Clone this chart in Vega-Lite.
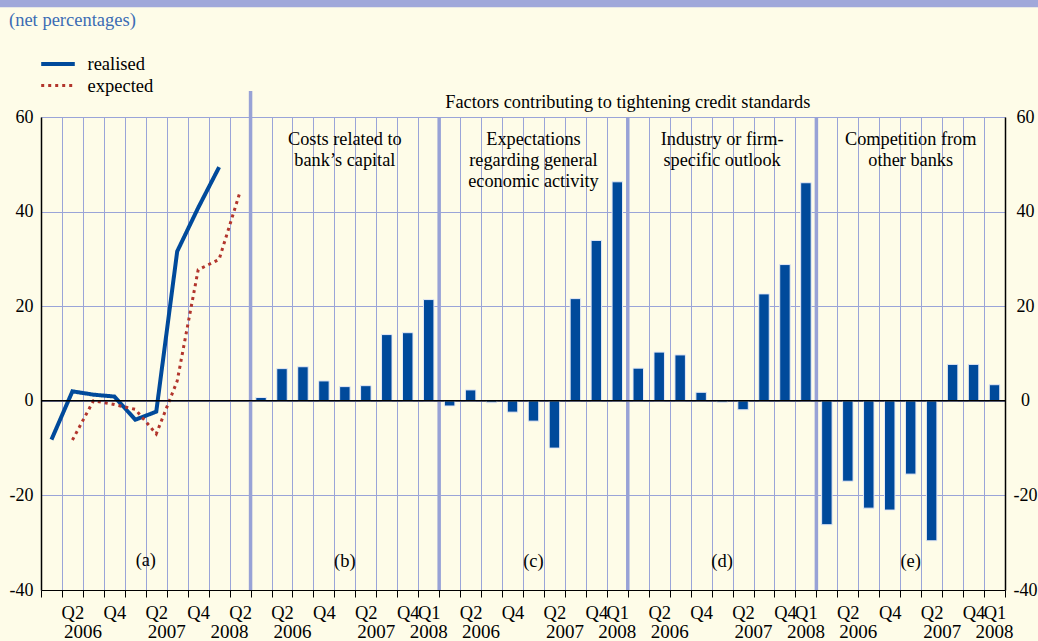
{
  "$schema": "https://vega.github.io/schema/vega-lite/v6.json",
  "width": 964,
  "height": 473,
  "autosize": {"type": "none"},
  "padding": {"left": 41, "top": 117, "right": 33, "bottom": 51},
  "background": "#FEFCE8",
  "config": {"view": {"stroke": null}, "font": "Liberation Serif"},
  "datasets": {
    "lines": [
      {"slot": "a 2006 Q1", "series": "realised", "value": -8.2},
      {"slot": "a 2006 Q2", "series": "realised", "value": 2.0},
      {"slot": "a 2006 Q3", "series": "realised", "value": 1.3},
      {"slot": "a 2006 Q4", "series": "realised", "value": 0.9},
      {"slot": "a 2007 Q1", "series": "realised", "value": -4.0},
      {"slot": "a 2007 Q2", "series": "realised", "value": -2.3},
      {"slot": "a 2007 Q3", "series": "realised", "value": 31.6},
      {"slot": "a 2007 Q4", "series": "realised", "value": 40.8},
      {"slot": "a 2008 Q1", "series": "realised", "value": 49.4},
      {"slot": "a 2006 Q2", "series": "expected", "value": -8.3},
      {"slot": "a 2006 Q3", "series": "expected", "value": 0.0},
      {"slot": "a 2006 Q4", "series": "expected", "value": -0.8},
      {"slot": "a 2007 Q1", "series": "expected", "value": -1.8},
      {"slot": "a 2007 Q2", "series": "expected", "value": -7.0},
      {"slot": "a 2007 Q3", "series": "expected", "value": 4.2},
      {"slot": "a 2007 Q4", "series": "expected", "value": 27.7},
      {"slot": "a 2008 Q1", "series": "expected", "value": 29.9},
      {"slot": "a 2008 Q2", "series": "expected", "value": 44.2}
    ],
    "bars": [
      {"slot": "b 2006 Q1", "factor": "Costs related to bank's capital", "value": 0.7},
      {"slot": "b 2006 Q2", "factor": "Costs related to bank's capital", "value": 6.8},
      {"slot": "b 2006 Q3", "factor": "Costs related to bank's capital", "value": 7.2},
      {"slot": "b 2006 Q4", "factor": "Costs related to bank's capital", "value": 4.2},
      {"slot": "b 2007 Q1", "factor": "Costs related to bank's capital", "value": 3.0},
      {"slot": "b 2007 Q2", "factor": "Costs related to bank's capital", "value": 3.2},
      {"slot": "b 2007 Q3", "factor": "Costs related to bank's capital", "value": 14.0},
      {"slot": "b 2007 Q4", "factor": "Costs related to bank's capital", "value": 14.4},
      {"slot": "b 2008 Q1", "factor": "Costs related to bank's capital", "value": 21.4},
      {"slot": "c 2006 Q1", "factor": "Expectations regarding general economic activity", "value": -1.1},
      {"slot": "c 2006 Q2", "factor": "Expectations regarding general economic activity", "value": 2.3},
      {"slot": "c 2006 Q3", "factor": "Expectations regarding general economic activity", "value": -0.4},
      {"slot": "c 2006 Q4", "factor": "Expectations regarding general economic activity", "value": -2.4},
      {"slot": "c 2007 Q1", "factor": "Expectations regarding general economic activity", "value": -4.3},
      {"slot": "c 2007 Q2", "factor": "Expectations regarding general economic activity", "value": -10.0},
      {"slot": "c 2007 Q3", "factor": "Expectations regarding general economic activity", "value": 21.6},
      {"slot": "c 2007 Q4", "factor": "Expectations regarding general economic activity", "value": 33.9},
      {"slot": "c 2008 Q1", "factor": "Expectations regarding general economic activity", "value": 46.3},
      {"slot": "d 2006 Q1", "factor": "Industry or firm-specific outlook", "value": 6.9},
      {"slot": "d 2006 Q2", "factor": "Industry or firm-specific outlook", "value": 10.3},
      {"slot": "d 2006 Q3", "factor": "Industry or firm-specific outlook", "value": 9.7},
      {"slot": "d 2006 Q4", "factor": "Industry or firm-specific outlook", "value": 1.8},
      {"slot": "d 2007 Q1", "factor": "Industry or firm-specific outlook", "value": -0.3},
      {"slot": "d 2007 Q2", "factor": "Industry or firm-specific outlook", "value": -1.9},
      {"slot": "d 2007 Q3", "factor": "Industry or firm-specific outlook", "value": 22.6},
      {"slot": "d 2007 Q4", "factor": "Industry or firm-specific outlook", "value": 28.8},
      {"slot": "d 2008 Q1", "factor": "Industry or firm-specific outlook", "value": 46.1},
      {"slot": "e 2006 Q1", "factor": "Competition from other banks", "value": -26.2},
      {"slot": "e 2006 Q2", "factor": "Competition from other banks", "value": -17.0},
      {"slot": "e 2006 Q3", "factor": "Competition from other banks", "value": -22.7},
      {"slot": "e 2006 Q4", "factor": "Competition from other banks", "value": -23.1},
      {"slot": "e 2007 Q1", "factor": "Competition from other banks", "value": -15.5},
      {"slot": "e 2007 Q2", "factor": "Competition from other banks", "value": -29.6},
      {"slot": "e 2007 Q3", "factor": "Competition from other banks", "value": 7.7},
      {"slot": "e 2007 Q4", "factor": "Competition from other banks", "value": 7.7},
      {"slot": "e 2008 Q1", "factor": "Competition from other banks", "value": 3.4}
    ]
  },
  "layer": [
    {
      "data": {"values": [{"band": "top"}]},
      "mark": {"type": "rect", "color": "#A0A8DA", "x": 0, "xOffset": -41, "x2": {"expr": "width + 33"}},
      "encoding": {
        "y": {"datum": 84.9, "type": "quantitative", "axis": null},
        "y2": {"datum": 83.2}
      }
    },
    {
      "data": {"name": "bars"},
      "mark": {"type": "bar", "color": "#004A9B", "stroke": "#E4E9F6", "strokeWidth": 1, "width": {"band": 0.5}},
      "encoding": {
        "x": {
          "field": "slot", "type": "ordinal",
          "scale": {
            "domain": ["a 2006 Q1","a 2006 Q2","a 2006 Q3","a 2006 Q4","a 2007 Q1","a 2007 Q2","a 2007 Q3","a 2007 Q4","a 2008 Q1","a 2008 Q2",
                       "b 2006 Q1","b 2006 Q2","b 2006 Q3","b 2006 Q4","b 2007 Q1","b 2007 Q2","b 2007 Q3","b 2007 Q4","b 2008 Q1",
                       "c 2006 Q1","c 2006 Q2","c 2006 Q3","c 2006 Q4","c 2007 Q1","c 2007 Q2","c 2007 Q3","c 2007 Q4","c 2008 Q1",
                       "d 2006 Q1","d 2006 Q2","d 2006 Q3","d 2006 Q4","d 2007 Q1","d 2007 Q2","d 2007 Q3","d 2007 Q4","d 2008 Q1",
                       "e 2006 Q1","e 2006 Q2","e 2006 Q3","e 2006 Q4","e 2007 Q1","e 2007 Q2","e 2007 Q3","e 2007 Q4","e 2008 Q1"],
            "paddingInner": 0, "paddingOuter": 0
          },
          "axis": {
            "title": null, "orient": "bottom", "tickBand": "extent",
            "grid": true, "gridColor": "#9AA4D8", "gridWidth": 1, "gridOpacity": 1,
            "ticks": true, "tickColor": "black", "tickSize": 7, "tickWidth": 1,
            "domain": true, "domainColor": "black", "domainWidth": 1,
            "labelAngle": 0, "labelFont": "Liberation Serif", "labelFontSize": 18.5, "labelColor": "black",
            "labelPadding": 6, "labelOverlap": false,
            "labelExpr": "isString(datum.value) && (slice(datum.value,-2)=='Q2' || slice(datum.value,-2)=='Q4' || (slice(datum.value,-7)=='2008 Q1' && slice(datum.value,0,1)!='a')) ? slice(datum.value,-2) : ''"
          }
        },
        "y": {
          "field": "value", "type": "quantitative",
          "scale": {"domain": [-40, 60], "nice": false, "zero": false},
          "axis": {
            "title": null, "orient": "left", "values": [-40, -20, 0, 20, 40, 60],
            "grid": true, "gridColor": "#9AA4D8", "gridWidth": 1, "gridOpacity": 1,
            "ticks": false, "domain": true, "domainColor": "black", "domainWidth": 1.5,
            "labelFont": "Liberation Serif", "labelFontSize": 18, "labelColor": "black", "labelPadding": 8,
            "labelExpr": "replace(datum.label, '−', '-')"
          }
        }
      }
    },
    {
      "data": {"name": "lines"},
      "mark": {"type": "line"},
      "encoding": {
        "x": {"field": "slot", "type": "ordinal"},
        "y": {
          "field": "value", "type": "quantitative",
          "axis": {
            "title": null, "orient": "right", "values": [-40, -20, 0, 20, 40, 60],
            "grid": false, "ticks": false, "domain": true, "domainColor": "black", "domainWidth": 1.5,
            "labelFont": "Liberation Serif", "labelFontSize": 18, "labelColor": "black", "labelPadding": 20, "labelAlign": "center",
            "labelExpr": "replace(datum.label, '−', '-')"
          }
        },
        "color": {
          "field": "series", "type": "nominal",
          "scale": {"domain": ["realised", "expected"], "range": ["#004A9B", "#B2352C"]},
          "legend": {"orient": "none", "legendX": 4.5, "legendY": -65.5, "title": null, "padding": 0, "rowPadding": 0,
                     "symbolType": "M-1.6,0H1.6", "symbolSize": 441, "labelOffset": 17,
                     "labelFont": "Liberation Serif", "labelFontSize": 18.5, "labelColor": "black"}
        },
        "strokeDash": {
          "field": "series", "type": "nominal",
          "scale": {"domain": ["realised", "expected"], "range": [[1, 0], [3, 4]]},
          "legend": {"orient": "none", "legendX": 4.5, "legendY": -65.5, "title": null, "padding": 0, "rowPadding": 0,
                     "symbolType": "M-1.6,0H1.6", "symbolSize": 441, "labelOffset": 17,
                     "labelFont": "Liberation Serif", "labelFontSize": 18.5, "labelColor": "black"}
        },
        "strokeWidth": {
          "field": "series", "type": "nominal",
          "scale": {"type": "ordinal", "domain": ["realised", "expected"], "range": [4, 3]},
          "legend": {"orient": "none", "legendX": 4.5, "legendY": -65.5, "title": null, "padding": 0, "rowPadding": 0,
                     "symbolType": "M-1.6,0H1.6", "symbolSize": 441, "labelOffset": 17,
                     "labelFont": "Liberation Serif", "labelFontSize": 18.5, "labelColor": "black"}
        }
      }
    },
    {
      "data": {"values": [{"slot": "b 2006 Q1", "top": 65.5}, {"slot": "c 2006 Q1", "top": 60}, {"slot": "d 2006 Q1", "top": 60}, {"slot": "e 2006 Q1", "top": 60}]},
      "mark": {"type": "rule", "color": "#98A2D6", "strokeWidth": 3.5},
      "encoding": {
        "x": {"field": "slot", "type": "ordinal", "bandPosition": 0},
        "y": {"field": "top", "type": "quantitative", "axis": null},
        "y2": {"datum": -40}
      }
    },
    {
      "data": {"values": [{"level": 0}]},
      "mark": {"type": "rule", "color": "black", "strokeWidth": 1.5},
      "encoding": {
        "y": {"field": "level", "type": "quantitative", "axis": null}
      }
    },
    {
      "data": {"values": [
        {"slot": "b 2007 Q1", "label": "Costs related to\nbank’s capital"},
        {"slot": "c 2007 Q1", "label": "Expectations\nregarding general\neconomic activity"},
        {"slot": "d 2007 Q1", "label": "Industry or firm-\nspecific outlook"},
        {"slot": "e 2007 Q1", "label": "Competition from\nother banks"}
      ]},
      "mark": {"type": "text", "font": "Liberation Serif", "fontSize": 18.3, "color": "black", "align": "center", "baseline": "top", "lineBreak": "\n", "lineHeight": 21},
      "encoding": {
        "x": {"field": "slot", "type": "ordinal"},
        "y": {"datum": 57.1, "type": "quantitative", "axis": null},
        "text": {"field": "label"}
      }
    },
    {
      "data": {"values": [
        {"slot": "b 2007 Q1", "label": "(b)"},
        {"slot": "c 2007 Q1", "label": "(c)"},
        {"slot": "d 2007 Q1", "label": "(d)"},
        {"slot": "e 2007 Q1", "label": "(e)"}
      ]},
      "mark": {"type": "text", "font": "Liberation Serif", "fontSize": 18.5, "color": "black", "align": "center", "baseline": "middle"},
      "encoding": {
        "x": {"field": "slot", "type": "ordinal"},
        "y": {"datum": -33.9, "type": "quantitative", "axis": null},
        "text": {"field": "label"}
      }
    },
    {
      "data": {"values": [
        {"slot": "a 2007 Q2", "label": "(a)", "row": -33.9},
        {"slot": "d 2006 Q1", "label": "Factors contributing to tightening credit standards", "row": 63.0}
      ]},
      "mark": {"type": "text", "font": "Liberation Serif", "fontSize": 18.3, "color": "black", "align": "center", "baseline": "middle"},
      "encoding": {
        "x": {"field": "slot", "type": "ordinal", "bandPosition": 0},
        "y": {"field": "row", "type": "quantitative", "axis": null},
        "text": {"field": "label"}
      }
    },
    {
      "data": {"values": [
        {"slot": "a 2006 Q3", "label": "2006"},
        {"slot": "a 2007 Q3", "label": "2007"},
        {"slot": "a 2008 Q2", "label": "2008"},
        {"slot": "b 2006 Q3", "label": "2006"},
        {"slot": "b 2007 Q3", "label": "2007"},
        {"slot": "c 2006 Q3", "label": "2006"},
        {"slot": "c 2007 Q3", "label": "2007"},
        {"slot": "d 2006 Q3", "label": "2006"},
        {"slot": "d 2007 Q3", "label": "2007"},
        {"slot": "e 2006 Q3", "label": "2006"},
        {"slot": "e 2007 Q3", "label": "2007"}
      ]},
      "mark": {"type": "text", "font": "Liberation Serif", "fontSize": 19, "color": "black", "align": "center", "baseline": "middle"},
      "encoding": {
        "x": {"field": "slot", "type": "ordinal", "bandPosition": 0},
        "y": {"datum": -48.9, "type": "quantitative", "axis": null},
        "text": {"field": "label"}
      }
    },
    {
      "data": {"values": [
        {"slot": "b 2008 Q1", "label": "2008"},
        {"slot": "c 2008 Q1", "label": "2008"},
        {"slot": "d 2008 Q1", "label": "2008"},
        {"slot": "e 2008 Q1", "label": "2008"}
      ]},
      "mark": {"type": "text", "font": "Liberation Serif", "fontSize": 19, "color": "black", "align": "center", "baseline": "middle"},
      "encoding": {
        "x": {"field": "slot", "type": "ordinal"},
        "y": {"datum": -48.9, "type": "quantitative", "axis": null},
        "text": {"field": "label"}
      }
    },
    {
      "data": {"values": [
        {"slot": "a 2006 Q1", "label": "(net percentages)"}
      ]},
      "mark": {"type": "text", "font": "Liberation Serif", "fontSize": 18.5, "color": "#3B6CB4", "align": "left", "baseline": "middle", "dx": -32},
      "encoding": {
        "x": {"field": "slot", "type": "ordinal", "bandPosition": 0},
        "y": {"datum": 80.6, "type": "quantitative", "axis": null},
        "text": {"field": "label"}
      }
    }
  ],
  "resolve": {"axis": {"y": "independent"}}
}
